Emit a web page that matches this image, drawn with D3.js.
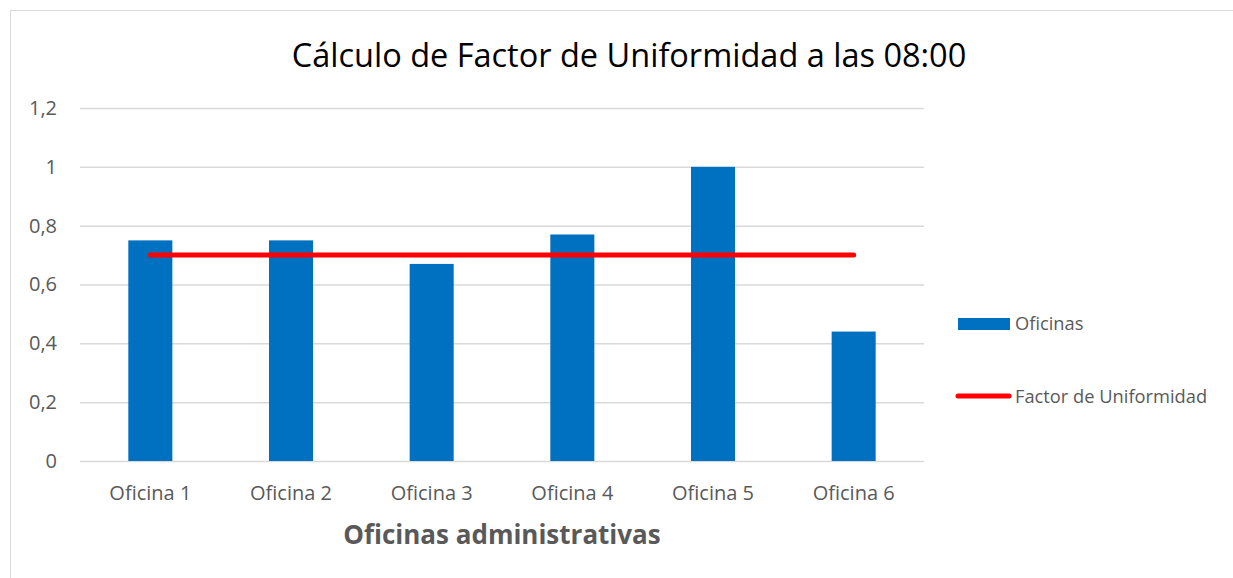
<!DOCTYPE html>
<html>
<head>
<meta charset="utf-8">
<script src="https://cdn.jsdelivr.net/npm/d3@7"></script>
<style>
  body { margin: 0; background: #fff; }
  svg text { font-family: "Open Sans", "Noto Sans", sans-serif; }
</style>
</head>
<body>
<svg width="1233" height="578"></svg>
<script>
var categories = ["Oficina 1", "Oficina 2", "Oficina 3", "Oficina 4", "Oficina 5", "Oficina 6"];
var oficinas = [0.75, 0.75, 0.67, 0.77, 1.0, 0.44];
var factorUniformidad = [0.7, 0.7, 0.7, 0.7, 0.7, 0.7];
var yTicks = [0, 0.2, 0.4, 0.6, 0.8, 1, 1.2];

var svg = d3.select("svg");
var margin = { left: 80, right: 309, top: 108, bottom: 117 };
var width = svg.attr("width") - margin.left - margin.right;
var height = svg.attr("height") - margin.top - margin.bottom;

// chart frame
svg.append("rect")
    .attr("x", 10.5).attr("y", 10.5)
    .attr("width", 1240).attr("height", 600)
    .attr("fill", "none")
    .attr("stroke", "#d9d9d9");

var g = svg.append("g")
    .attr("transform", "translate(" + margin.left + "," + margin.top + ")");

var x = d3.scaleBand()
    .domain(categories)
    .range([0, width])
    .paddingInner(0.687)
    .paddingOuter(0.3435);

var y = d3.scaleLinear().domain([0, 1.2]).range([height, 0]);

// gridlines
g.append("g")
    .attr("class", "grid")
    .call(d3.axisLeft(y).tickValues(yTicks).tickSize(-width).tickFormat(""))
    .call(function(s) { s.select(".domain").remove(); })
    .selectAll("line")
    .attr("stroke", "#d9d9d9")
    .attr("stroke-width", 1.5);

// y labels
var fmt = function(d) { return String(d).replace(".", ","); };
g.append("g")
    .call(d3.axisLeft(y).tickValues(yTicks).tickSize(0).tickPadding(23).tickFormat(fmt))
    .call(function(s) { s.select(".domain").remove(); })
    .selectAll("text")
    .attr("fill", "#595959")
    .style("font-size", "20px")
    .style("font-family", "'Open Sans', sans-serif");

// x labels
g.append("g")
    .attr("transform", "translate(0," + height + ")")
    .call(d3.axisBottom(x).tickSize(0).tickPadding(25))
    .call(function(s) { s.select(".domain").remove(); })
    .selectAll("text")
    .attr("fill", "#595959")
    .style("font-size", "20px")
    .style("font-family", "'Open Sans', sans-serif");

// bars
g.selectAll(".bar")
    .data(oficinas)
    .enter().append("rect")
    .attr("class", "bar")
    .attr("x", function(d, i) { return x(categories[i]); })
    .attr("y", function(d) { return y(d); })
    .attr("width", x.bandwidth())
    .attr("height", function(d) { return height - y(d); })
    .attr("fill", "#0070c0");

// factor line
var line = d3.line()
    .x(function(d, i) { return x(categories[i]) + x.bandwidth() / 2; })
    .y(function(d) { return y(d); });

g.append("path")
    .attr("d", line(factorUniformidad))
    .attr("fill", "none")
    .attr("stroke", "#ff0000")
    .attr("stroke-width", 5)
    .attr("stroke-linecap", "round");

// title
svg.append("text")
    .attr("x", 629).attr("y", 67)
    .attr("text-anchor", "middle")
    .attr("fill", "#000")
    .style("font-size", "32.5px")
    .text("Cálculo de Factor de Uniformidad a las 08:00");

// axis title
svg.append("text")
    .attr("x", margin.left + width / 2).attr("y", 544)
    .attr("text-anchor", "middle")
    .attr("fill", "#595959")
    .style("font-size", "26px")
    .style("font-weight", "bold")
    .text("Oficinas administrativas");

// legend
var legend = svg.append("g");
legend.append("rect")
    .attr("x", 958).attr("y", 318)
    .attr("width", 52).attr("height", 12)
    .attr("fill", "#0070c0");
legend.append("text")
    .attr("x", 1015).attr("y", 330)
    .attr("fill", "#595959")
    .style("font-size", "18.3px")
    .text("Oficinas");
legend.append("line")
    .attr("x1", 958).attr("x2", 1009)
    .attr("y1", 396).attr("y2", 396)
    .attr("stroke", "#ff0000")
    .attr("stroke-width", 5)
    .attr("stroke-linecap", "round");
legend.append("text")
    .attr("x", 1015).attr("y", 403)
    .attr("fill", "#595959")
    .style("font-size", "18.3px")
    .text("Factor de Uniformidad");
</script>
</body>
</html>
